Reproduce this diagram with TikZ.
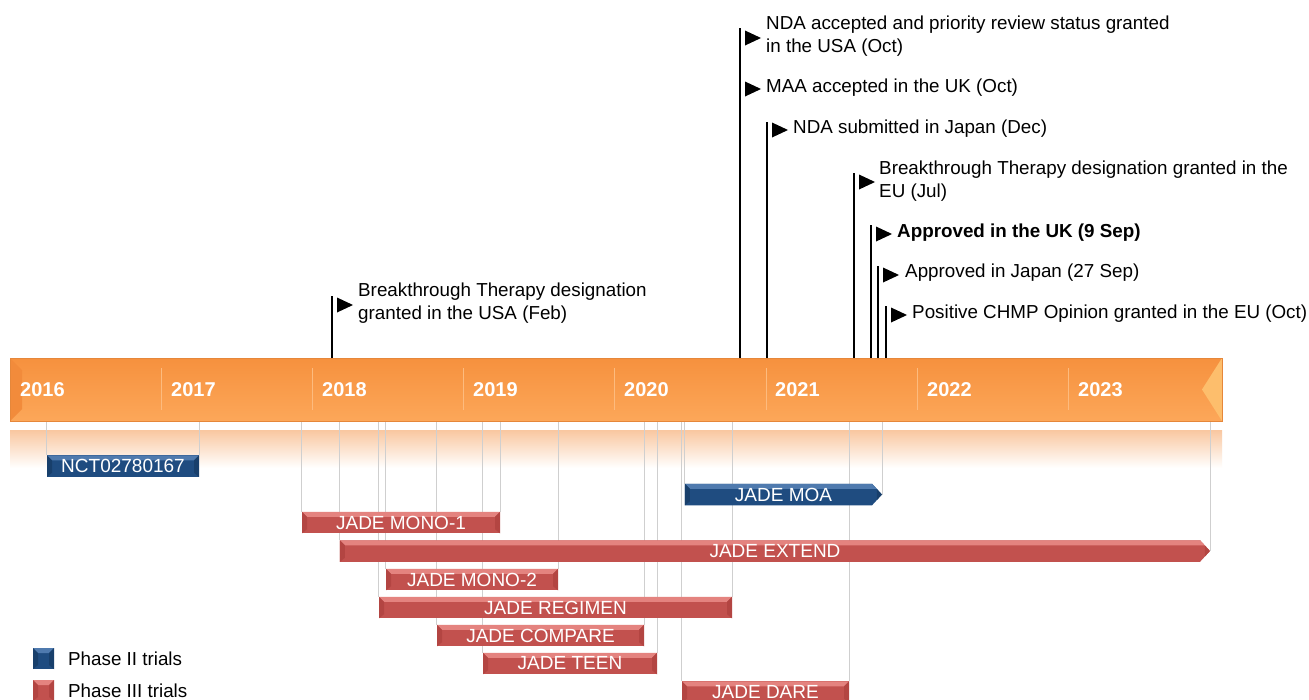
\documentclass[tikz,border=0pt]{standalone}
\usepackage{fontspec}
\setmainfont{Liberation Sans}
\usetikzlibrary{shapes.symbols}
\definecolor{orTop}{HTML}{F6913E}
\definecolor{orBot}{HTML}{FCA759}
\definecolor{orEdge}{HTML}{E6873A}
\definecolor{orSep}{HTML}{FDBB7E}
\definecolor{orDark}{HTML}{F28B3B}
\definecolor{orLight}{HTML}{FDBE6C}
\definecolor{bandTop}{HTML}{F9C7A0}
\definecolor{guideGray}{HTML}{CFCFCF}
\definecolor{redBase}{HTML}{C2514E}
\definecolor{redHi}{HTML}{E4837F}
\definecolor{redDark}{HTML}{B34542}
\definecolor{blueBase}{HTML}{1F4C80}
\definecolor{blueHi}{HTML}{4F7AAE}
\definecolor{blueDark}{HTML}{183F6B}
\pgfdeclarelayer{bg}
\pgfsetlayers{bg,main}
\tikzset{
  bevel/.style 2 args={path picture={
    \fill[#1] (path picture bounding box.north west) -- (path picture bounding box.north east)
      -- ([xshift=-5pt,yshift=-5pt]path picture bounding box.north east)
      -- ([xshift=5pt,yshift=-5pt]path picture bounding box.north west) -- cycle;
    \fill[#2] (path picture bounding box.north west) -- ([xshift=5pt,yshift=-5pt]path picture bounding box.north west)
      -- ([xshift=5pt,yshift=4pt]path picture bounding box.south west) -- (path picture bounding box.south west) -- cycle;
    \fill[#2] (path picture bounding box.north east) -- ([xshift=-5pt,yshift=-5pt]path picture bounding box.north east)
      -- ([xshift=-5pt,yshift=4pt]path picture bounding box.south east) -- (path picture bounding box.south east) -- cycle;
  }},
  trialbar/.style={minimum height=21.5pt, inner sep=0pt, text=white, font=\fontsize{19}{22}\selectfont},
  phasetwo/.style={trialbar, fill=blueBase, bevel={blueHi}{blueDark}},
  phasethree/.style={trialbar, fill=redBase, bevel={redHi}{redDark}},
  tipped/.style={signal, signal to=east, signal from=nowhere, signal pointer angle=95},
  guide/.style={draw=guideGray, line width=1.1pt},
  flagline/.style={draw=black, line width=1.4pt},
  flagtri/.style={fill=black},
  note/.style={font=\fontsize{18.8}{23}\selectfont, inner sep=0pt, align=left, text=black},
  yearlab/.style={font=\fontsize{20}{24}\selectfont\bfseries, text=white, inner sep=0pt, anchor=base west},
  yearsep/.style={draw=orSep, line width=1pt},
}
\begin{document}
\begin{tikzpicture}[x=1pt,y=-1pt]
\useasboundingbox (0,0) rectangle (1309,699);
\begin{pgfonlayer}{bg}
  \fill[white] (0,0) rectangle (1309,699);
  \shade[top color=bandTop, bottom color=white] (10,430) rectangle (1222,468);
\end{pgfonlayer}

% timeline axis
\node[draw=orEdge, line width=0.6pt, top color=orTop, bottom color=orBot,
      minimum width=1212pt, minimum height=63pt, inner sep=0pt,
      path picture={
        \fill[orDark] (path picture bounding box.north west) -- ([xshift=12pt,yshift=-12pt]path picture bounding box.north west)
          -- ([xshift=12pt,yshift=12pt]path picture bounding box.south west) -- (path picture bounding box.south west) -- cycle;
        \fill[orLight] (path picture bounding box.north east) -- ([xshift=-20pt]path picture bounding box.east)
          -- (path picture bounding box.south east) -- cycle;
      }] (axis) at (616,389.5) {};
\foreach \sx in {161,312.3,463.6,614.9,766.2,917.5,1068.8}
  \draw[yearsep] (\sx,368) -- (\sx,410);
\node[yearlab] (y2016) at (20,396) {2016};
\node[yearlab] (y2017) at (171,396) {2017};
\node[yearlab] (y2018) at (322,396) {2018};
\node[yearlab] (y2019) at (473,396) {2019};
\node[yearlab] (y2020) at (624,396) {2020};
\node[yearlab] (y2021) at (775,396) {2021};
\node[yearlab] (y2022) at (927,396) {2022};
\node[yearlab] (y2023) at (1078,396) {2023};

% trial bars
\node[phasetwo, minimum width=152pt] (nct) at (123,466) {NCT02780167};
\node[phasetwo, tipped, minimum width=197pt] (moa) at (778.5,494.5) {\hspace*{10pt}JADE MOA};
\node[phasethree, minimum width=198pt] (mono1) at (401,522.5) {JADE MONO-1};
\node[phasethree, tipped, minimum width=870pt] (extend) at (770,551) {\hspace*{10pt}JADE EXTEND};
\node[phasethree, minimum width=172pt] (mono2) at (472,579.5) {JADE MONO-2};
\node[phasethree, minimum width=353pt] (regimen) at (555.5,607.5) {JADE REGIMEN};
\node[phasethree, minimum width=207pt] (compare) at (540.5,635.5) {JADE COMPARE};
\node[phasethree, minimum width=174pt] (teen) at (570,663.5) {JADE TEEN};
\node[phasethree, minimum width=167pt] (dare) at (765.5,692) {JADE DARE};

% guide lines from axis to bars
\begin{pgfonlayer}{bg}
  \foreach \b in {nct,mono1,mono2,regimen,compare,teen,dare} {
    \draw[guide] (axis.south -| \b.west) -- (\b.west |- \b.north);
    \draw[guide] (axis.south -| \b.east) -- (\b.east |- \b.north);
  }
  \foreach \b in {moa,extend} {
    \draw[guide] (axis.south -| \b.west) -- (\b.west |- \b.north);
    \draw[guide] (axis.south -| \b.east) -- (\b.east);
  }
\end{pgfonlayer}

% milestones
\coordinate (f1) at (332,296);
\coordinate (f2) at (740,28);
\coordinate (f4) at (767,122);
\coordinate (f5) at (854,173);
\coordinate (f6) at (871,225);
\coordinate (f7) at (878,266);
\coordinate (f8) at (886,306);
\foreach \f in {f1,f2,f4,f5,f6,f7,f8}
  \draw[flagline] (axis.north -| \f) -- (\f);

\fill[flagtri] (337,297.5) -- (353,305) -- (337,312.5) -- cycle;
\fill[flagtri] (745,30.5) -- (761,38) -- (745,45.5) -- cycle;
\fill[flagtri] (745,81.5) -- (761,89) -- (745,96.5) -- cycle;
\fill[flagtri] (772,122.5) -- (788,130) -- (772,137.5) -- cycle;
\fill[flagtri] (859,174.5) -- (875,182) -- (859,189.5) -- cycle;
\fill[flagtri] (876,226.5) -- (892,234) -- (876,241.5) -- cycle;
\fill[flagtri] (883,267.5) -- (899,275) -- (883,282.5) -- cycle;
\fill[flagtri] (891,307.5) -- (907,315) -- (891,322.5) -- cycle;

\node[note, anchor=west] (t1) at (358,303) {Breakthrough Therapy designation\\granted in the USA (Feb)};
\node[note, anchor=west] (t2) at (766,36.5) {NDA accepted and priority review status granted\\in the USA (Oct)};
\node[note, anchor=base west] (t3) at (766,92) {MAA accepted in the UK (Oct)};
\node[note, anchor=base west] (t4) at (793,133) {NDA submitted in Japan (Dec)};
\node[note, anchor=west] (t5) at (879,181) {Breakthrough Therapy designation granted in the\\EU (Jul)};
\node[note, anchor=base west, font=\fontsize{18.8}{23}\selectfont\bfseries] (t6) at (897,237) {Approved in the UK (9 Sep)};
\node[note, anchor=base west] (t7) at (905,277) {Approved in Japan (27 Sep)};
\node[note, anchor=base west] (t8) at (912,318) {Positive CHMP Opinion granted in the EU (Oct)};

% legend
\node[phasetwo, minimum width=21pt, minimum height=21pt] (lg2) at (43.5,658.5) {};
\node[phasethree, minimum width=21pt, minimum height=21pt] (lg3) at (43.5,690.5) {};
\node[note, anchor=base west] (lt2) at (68,665) {Phase II trials};
\node[note, anchor=base west] (lt3) at (68,697) {Phase III trials};
\end{tikzpicture}
\end{document}
